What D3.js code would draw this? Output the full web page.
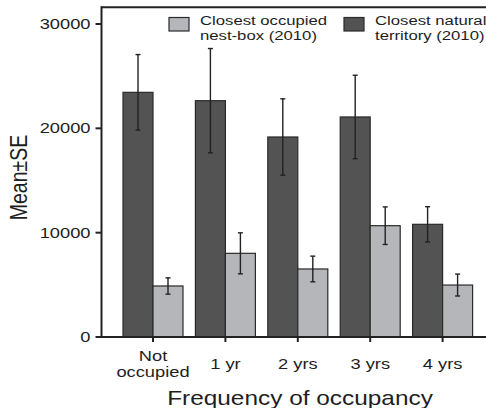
<!DOCTYPE html>
<html>
<head>
<meta charset="utf-8">
<script src="https://cdn.jsdelivr.net/npm/d3@7"></script>
<style>
  body { margin: 0; background: #fff; }
  svg { display: block; }
  text { font-family: "Liberation Sans", Arial, sans-serif; fill: #1e1e1e; }
</style>
</head>
<body>
<div id="chart"></div>
<script>
// data
var categories = ["Not occupied", "1 yr", "2 yrs", "3 yrs", "4 yrs"];
var natural = [23450, 22650, 19170, 21090, 10800];     // closest natural territory (2010)
var naturalSE = [3620, 5000, 3660, 4000, 1690];
var nestbox = [4890, 8020, 6520, 10670, 4980];         // closest occupied nest-box (2010)
var nestboxSE = [780, 1965, 1230, 1800, 1050];
var yTicks = [0, 10000, 20000, 30000];

var width = 486, height = 408;
var stretch = 1.22; // text in the figure is a bit wider than tall

var svg = d3.select("#chart").append("svg")
	.attr("width", width)
	.attr("height", height);

// scales
var y = d3.scaleLinear().domain([0, 30000]).range([337, 24]);
var x = d3.scaleBand().domain(categories).range([116.8, 478.8]);
var yTop = y(31600);
var axisLeft = 101.5;
var barW = 30;

function center(c) { return x(c) + x.bandwidth() / 2; }

// bars: dark (natural) left, light (nest-box) right
var groups = svg.selectAll("g.grp")
	.data(categories)
	.enter().append("g")
	.attr("class", "grp");

groups.append("rect")
	.attr("x", function(d) { return center(d) - barW; })
	.attr("y", function(d, i) { return y(natural[i]); })
	.attr("width", barW)
	.attr("height", function(d, i) { return y(0) - y(natural[i]); })
	.attr("fill", "#535353")
	.attr("stroke", "#2a2a2a")
	.attr("stroke-width", 1.2);

groups.append("rect")
	.attr("x", function(d) { return center(d); })
	.attr("y", function(d, i) { return y(nestbox[i]); })
	.attr("width", barW)
	.attr("height", function(d, i) { return y(0) - y(nestbox[i]); })
	.attr("fill", "#b5b6b9")
	.attr("stroke", "#2a2a2a")
	.attr("stroke-width", 1.2);

// error bars
function errBar(g, cx, v, se) {
	var e = g.append("g").attr("stroke", "#222").attr("stroke-width", 1.4);
	e.append("line").attr("x1", cx).attr("x2", cx).attr("y1", y(v + se)).attr("y2", y(v - se));
	e.append("line").attr("x1", cx - 2.5).attr("x2", cx + 2.5).attr("y1", y(v + se)).attr("y2", y(v + se));
	e.append("line").attr("x1", cx - 2.5).attr("x2", cx + 2.5).attr("y1", y(v - se)).attr("y2", y(v - se));
}
groups.each(function(d, i) {
	var g = d3.select(this);
	errBar(g, center(d) - barW / 2, natural[i], naturalSE[i]);
	errBar(g, center(d) + barW / 2, nestbox[i], nestboxSE[i]);
});

// axes lines and frame top
svg.append("line")
	.attr("x1", axisLeft).attr("x2", axisLeft).attr("y1", yTop - 1).attr("y2", y(0) + 1)
	.attr("stroke", "#222").attr("stroke-width", 2);
svg.append("line")
	.attr("x1", axisLeft).attr("x2", width).attr("y1", y(0)).attr("y2", y(0))
	.attr("stroke", "#222").attr("stroke-width", 2);
svg.append("line")
	.attr("x1", axisLeft).attr("x2", width).attr("y1", yTop).attr("y2", yTop)
	.attr("stroke", "#222").attr("stroke-width", 2);

// y ticks
var yt = svg.selectAll("g.ytick").data(yTicks).enter().append("g").attr("class", "ytick");
yt.append("line")
	.attr("x1", axisLeft - 6).attr("x2", axisLeft).attr("y1", function(d) { return y(d); }).attr("y2", function(d) { return y(d); })
	.attr("stroke", "#222").attr("stroke-width", 2);
yt.append("text")
	.attr("transform", function(d) { return "translate(" + (axisLeft - 11) + "," + (y(d) + 5) + ") scale(" + stretch + ",1)"; })
	.attr("text-anchor", "end")
	.attr("font-size", 15)
	.text(function(d) { return d; });

// x ticks
var xt = svg.selectAll("g.xtick").data(categories).enter().append("g").attr("class", "xtick");
xt.append("line")
	.attr("x1", center).attr("x2", center).attr("y1", y(0)).attr("y2", y(0) + 5)
	.attr("stroke", "#222").attr("stroke-width", 2);
xt.each(function(d) {
	var words = d === "Not occupied" ? ["Not", "occupied"] : [d];
	var g = d3.select(this);
	words.forEach(function(w, k) {
		var by = words.length > 1 ? 361 + k * 15.5 : 368.5;
		g.append("text")
			.attr("transform", "translate(" + center(d) + "," + by + ") scale(" + stretch + ",1)")
			.attr("text-anchor", "middle")
			.attr("font-size", 15)
			.text(w);
	});
});

// axis titles
svg.append("text")
	.attr("transform", "translate(300,405) scale(" + stretch + ",1)")
	.attr("text-anchor", "middle")
	.attr("font-size", 20)
	.text("Frequency of occupancy");

svg.append("text")
	.attr("transform", "translate(26.5,177.5) scale(" + stretch + ",1) rotate(-90)")
	.attr("text-anchor", "middle")
	.attr("font-size", 19.5)
	.text("Mean±SE");

// legend
var legendItems = [
	{ fill: "#b5b6b9", x: 169, lines: ["Closest occupied", "nest-box (2010)"] },
	{ fill: "#535353", x: 344, lines: ["Closest natural", "territory (2010)"] }
];
var lg = svg.selectAll("g.legend").data(legendItems).enter().append("g").attr("class", "legend");
lg.append("rect")
	.attr("x", function(d) { return d.x; })
	.attr("y", 17.5)
	.attr("width", 20)
	.attr("height", 13.5)
	.attr("fill", function(d) { return d.fill; })
	.attr("stroke", "#2a2a2a")
	.attr("stroke-width", 1.2);
lg.each(function(d) {
	var g = d3.select(this);
	d.lines.forEach(function(t, k) {
		g.append("text")
			.attr("transform", "translate(" + (d.x + 31) + "," + (24.7 + k * 15) + ") scale(" + stretch + ",1)")
			.attr("font-size", 13.7)
			.text(t);
	});
});
</script>
</body>
</html>
